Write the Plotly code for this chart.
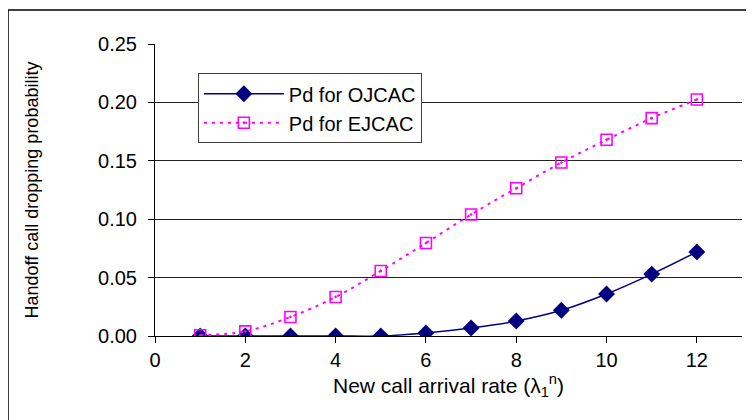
import plotly.graph_objects as go

x_rate = [1, 2, 3, 4, 5, 6, 7, 8, 9, 10, 11, 12]
pd_ojcac = [0.0, 0.0, 0.0, 0.0, 0.0, 0.0026, 0.0068, 0.0128, 0.022, 0.036, 0.053, 0.072]
pd_ejcac = [0.0006, 0.004, 0.0163, 0.0334, 0.0557, 0.0796, 0.104, 0.1265, 0.1485, 0.168, 0.1865, 0.2025]
y_ticks = [0.0, 0.05, 0.10, 0.15, 0.20, 0.25]

FONT = "Arial, Liberation Sans, sans-serif"

fig = go.Figure()
fig.add_trace(go.Scatter(
    x=x_rate, y=pd_ojcac, name="Pd for OJCAC", mode="lines+markers",
    line=dict(color="#000080", width=1.5, shape="spline"),
    marker=dict(symbol="diamond", size=13, color="#000080"),
))
fig.add_trace(go.Scatter(
    x=x_rate, y=pd_ejcac, name="Pd for EJCAC", mode="lines+markers",
    line=dict(color="#FF00FF", width=2, dash="3px,5px", shape="spline"),
    marker=dict(symbol="square-open-dot", size=11, color="#FF00FF", line=dict(width=1.6)),
))

fig.update_layout(
    width=746, height=412,
    margin=dict(l=147, r=12, t=36, b=84, autoexpand=False),
    paper_bgcolor="white", plot_bgcolor="white",
    font=dict(family=FONT, color="black"),
    showlegend=True,
    legend=dict(
        x=0.073, y=0.90, xanchor="left", yanchor="top",
        bgcolor="white", bordercolor="#404040", borderwidth=1,
        font=dict(size=20, family=FONT, color="black"),
        tracegroupgap=0, itemwidth=80,
    ),
    xaxis=dict(
        range=[0, 13], tickmode="array", tickvals=[0, 2, 4, 6, 8, 10, 12],
        showgrid=False, zeroline=False, automargin=False,
        showline=True, linecolor="black", linewidth=1,
        ticks="outside", ticklen=6, tickcolor="black",
        tickfont=dict(size=20),
        title=dict(text="New call arrival rate (λ<sub>1</sub><sup>n</sup>)", font=dict(size=21), standoff=1),
    ),
    yaxis=dict(
        range=[0, 0.25], tickmode="array", tickvals=y_ticks, tickformat=".2f",
        showgrid=True, gridcolor="#222222", gridwidth=1, zeroline=False, automargin=False,
        showline=True, linecolor="black", linewidth=1,
        ticks="outside", ticklen=6, tickcolor="black", ticklabelstandoff=7,
        tickfont=dict(size=20),
        title=dict(text="Handoff call dropping probability", font=dict(size=18), standoff=54),
    ),
    shapes=[
        dict(type="line", xref="paper", yref="paper", x0=-0.2504, x1=-0.2504, y0=1.1164, y1=-0.6,
             line=dict(color="black", width=1.5)),
        dict(type="line", xref="paper", yref="paper", x0=-0.2504, x1=1.2, y0=1.1164, y1=1.1164,
             line=dict(color="black", width=1.5)),
    ],
)

fig.write_html("out.html")
